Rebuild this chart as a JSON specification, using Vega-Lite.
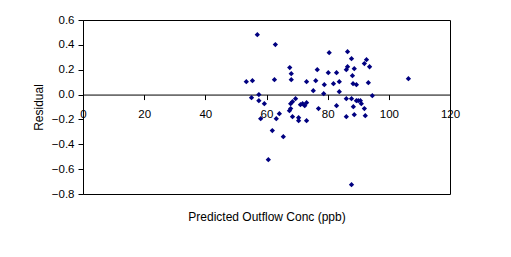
{
  "$schema": "https://vega.github.io/schema/vega-lite/v6.json",
  "autosize": {"type": "none"},
  "width": 367,
  "height": 174,
  "padding": {"left": 83, "top": 20, "right": 61, "bottom": 63},
  "background": "white",
  "config": {
    "view": {"stroke": "black", "strokeWidth": 1},
    "font": "Liberation Sans",
    "axis": {
      "grid": false,
      "labelFont": "Liberation Sans",
      "titleFont": "Liberation Sans",
      "labelFontSize": 11.5,
      "titleFontSize": 12,
      "titleFontWeight": "normal",
      "labelColor": "black",
      "titleColor": "black",
      "domainColor": "black",
      "tickColor": "black",
      "tickSize": 5,
      "labelFlush": false,
      "labelOverlap": false
    }
  },
  "data": {
    "values": [
      {"pred": 57.0, "res": 0.482},
      {"pred": 62.9, "res": 0.402},
      {"pred": 53.4, "res": 0.104},
      {"pred": 55.4, "res": 0.112},
      {"pred": 55.1, "res": -0.025},
      {"pred": 57.5, "res": 0.0},
      {"pred": 57.5, "res": -0.049},
      {"pred": 59.3, "res": -0.073},
      {"pred": 58.1, "res": -0.194},
      {"pred": 62.6, "res": 0.12},
      {"pred": 63.2, "res": -0.194},
      {"pred": 64.2, "res": -0.154},
      {"pred": 61.9, "res": -0.29},
      {"pred": 65.5, "res": -0.339},
      {"pred": 60.6, "res": -0.524},
      {"pred": 67.6, "res": 0.217},
      {"pred": 68.1, "res": 0.168},
      {"pred": 68.1, "res": 0.12},
      {"pred": 67.5, "res": -0.13},
      {"pred": 67.9, "res": -0.113},
      {"pred": 67.9, "res": -0.073},
      {"pred": 68.5, "res": -0.057},
      {"pred": 69.5, "res": -0.033},
      {"pred": 68.5, "res": -0.178},
      {"pred": 70.5, "res": -0.186},
      {"pred": 70.5, "res": -0.21},
      {"pred": 71.1, "res": -0.081},
      {"pred": 71.8, "res": -0.073},
      {"pred": 72.5, "res": -0.089},
      {"pred": 73.1, "res": -0.065},
      {"pred": 73.1, "res": 0.104},
      {"pred": 73.1, "res": -0.21},
      {"pred": 75.3, "res": 0.031},
      {"pred": 76.1, "res": 0.112},
      {"pred": 76.6, "res": 0.2},
      {"pred": 77.0, "res": -0.113},
      {"pred": 78.7, "res": 0.007},
      {"pred": 78.9, "res": 0.08},
      {"pred": 80.2, "res": 0.176},
      {"pred": 80.5, "res": 0.337},
      {"pred": 81.9, "res": 0.088},
      {"pred": 82.9, "res": 0.176},
      {"pred": 82.9, "res": -0.089},
      {"pred": 83.8, "res": 0.104},
      {"pred": 83.8, "res": 0.023},
      {"pred": 86.1, "res": -0.033},
      {"pred": 86.1, "res": -0.178},
      {"pred": 86.1, "res": 0.2},
      {"pred": 86.5, "res": 0.224},
      {"pred": 86.5, "res": 0.345},
      {"pred": 87.8, "res": 0.289},
      {"pred": 88.1, "res": 0.152},
      {"pred": 88.3, "res": 0.088},
      {"pred": 88.7, "res": 0.208},
      {"pred": 89.4, "res": 0.08},
      {"pred": 87.8, "res": -0.033},
      {"pred": 88.4, "res": -0.097},
      {"pred": 88.7, "res": -0.162},
      {"pred": 89.4, "res": -0.049},
      {"pred": 90.0, "res": -0.049},
      {"pred": 90.7, "res": -0.049},
      {"pred": 91.0, "res": -0.073},
      {"pred": 92.0, "res": -0.113},
      {"pred": 92.3, "res": -0.17},
      {"pred": 92.0, "res": 0.249},
      {"pred": 92.7, "res": 0.281},
      {"pred": 93.7, "res": 0.224},
      {"pred": 93.3, "res": 0.096},
      {"pred": 94.6, "res": -0.009},
      {"pred": 87.8, "res": -0.725},
      {"pred": 106.4, "res": 0.128}
    ]
  },
  "mark": {"type": "point", "shape": "diamond", "filled": true, "size": 28, "color": "#000080", "opacity": 1},
  "encoding": {
    "x": {
      "field": "pred",
      "type": "quantitative",
      "scale": {"domain": [0, 120], "nice": false, "zero": false},
      "axis": {
        "title": "Predicted Outflow Conc (ppb)",
        "values": [0, 20, 40, 60, 80, 100, 120],
        "format": "d",
        "offset": -99.43,
        "labelPadding": 9,
        "titleY": 121.5,
        "titleBaseline": "middle"
      }
    },
    "y": {
      "field": "res",
      "type": "quantitative",
      "scale": {"domain": [-0.8, 0.6], "nice": false, "zero": false},
      "axis": {
        "title": "Residual",
        "values": [-0.8, -0.6, -0.4, -0.2, 0, 0.2, 0.4, 0.6],
        "format": ".1f",
        "labelPadding": 4,
        "titleX": -44.5,
        "titleBaseline": "middle"
      }
    }
  }
}
